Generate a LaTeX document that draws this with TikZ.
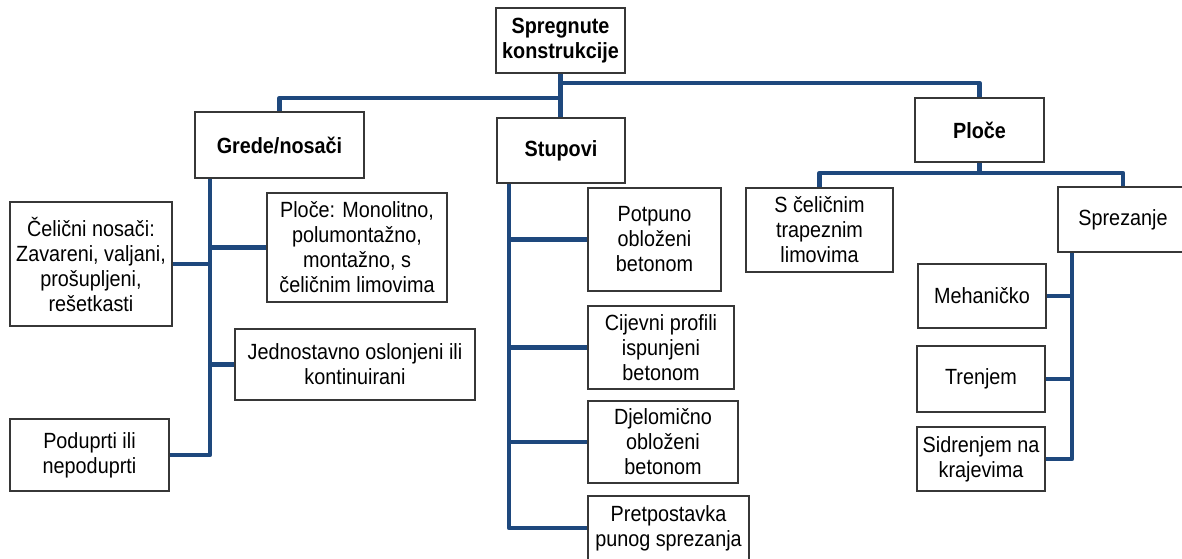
\documentclass[tikz,border=0pt]{standalone}
\usepackage{fontspec}
\setmainfont[FakeStretch=0.9]{Liberation Sans}
\definecolor{connblue}{RGB}{30,72,125}
\definecolor{boxline}{RGB}{55,55,55}
\begin{document}
\begin{tikzpicture}[x=1pt,y=-1pt,
  box/.style={draw=boxline, line width=1.1pt, fill=white, inner sep=0pt, align=center,
    font=\fontsize{22}{25}\selectfont},
  bbox/.style={box, font=\fontsize{22}{25}\selectfont\bfseries},
  conn/.style={draw=connblue, line width=4.8pt, line join=round}]
\useasboundingbox[fill=white] (0,0) rectangle (1182,558);

% level 0
\node[bbox, minimum width=129, minimum height=65] (root) at (560.5,40.5) {Spregnute\\konstrukcije};
% level 1
\node[bbox, minimum width=169, minimum height=66] (grede) at (279.5,145) {Grede/nosači};
\node[bbox, minimum width=128, minimum height=65] (stupovi) at (561,150.5) {Stupovi};
\node[bbox, minimum width=129, minimum height=64] (ploce) at (979.5,130) {Ploče};
% grede children
\node[box, minimum width=162, minimum height=124] (celicni) at (91,264) {Čelični nosači:\\Zavareni, valjani,\\prošupljeni,\\rešetkasti};
\node[box, minimum width=180, minimum height=109] (monolit) at (357,247.5) {Ploče: Monolitno,\\polumontažno,\\montažno, s\\čeličnim limovima};
\node[box, minimum width=240, minimum height=71] (jedno) at (355,364.5) {Jednostavno oslonjeni ili\\kontinuirani};
\node[box, minimum width=159, minimum height=72] (podup) at (89.5,455) {Poduprti ili\\nepoduprti};
% stupovi children
\node[box, minimum width=133, minimum height=103] (potpuno) at (654.5,239.5) {Potpuno\\obloženi\\betonom};
\node[box, minimum width=146, minimum height=83] (cijevni) at (661,347.5) {Cijevni profili\\ispunjeni\\betonom};
\node[box, minimum width=150, minimum height=82] (djelo) at (663,442) {Djelomično\\obloženi\\betonom};
\node[box, minimum width=161, minimum height=64] (pretp) at (668.5,528) {Pretpostavka\\punog sprezanja};
% ploce children
\node[box, minimum width=147, minimum height=84] (scel) at (819.5,230) {S čeličnim\\trapeznim\\limovima};
\node[box, minimum width=130, minimum height=65] (sprez) at (1123,219.5) {Sprezanje};
\node[box, minimum width=128, minimum height=64] (meh) at (982,296) {Mehaničko};
\node[box, minimum width=128, minimum height=66] (trenjem) at (981,379) {Trenjem};
\node[box, minimum width=128, minimum height=64] (sidr) at (981,459) {Sidrenjem na\\krajevima};

% connectors from root
\coordinate (lb) at (559.5,98);
\coordinate (rb) at (559.5,83);
\draw[conn] (root.south) -- (root.south |- stupovi.north);
\draw[conn] (grede.north) |- (lb);
\draw[conn] (ploce.north) |- (rb);

% grede tree
\coordinate (gv) at (210,178);
\draw[conn] (gv) |- (podup.east);
\draw[conn] (celicni.east) -- (celicni.east -| gv);
\draw[conn] (monolit.west) -- (monolit.west -| gv);
\draw[conn] (jedno.west) -- (jedno.west -| gv);

% stupovi tree
\coordinate (sv) at (509,183);
\draw[conn] (sv) |- (pretp.west);
\draw[conn] (potpuno.west) -- (potpuno.west -| sv);
\draw[conn] (cijevni.west) -- (cijevni.west -| sv);
\draw[conn] (djelo.west) -- (djelo.west -| sv);

% ploce tree
\coordinate (pb) at (979.5,173);
\draw[conn] (ploce.south) -- (pb);
\draw[conn] (scel.north) |- (pb);
\draw[conn] (sprez.north) |- (pb);

% sprezanje tree
\coordinate (spv) at (1072,252);
\draw[conn] (spv) |- (sidr.east);
\draw[conn] (meh.east) -- (meh.east -| spv);
\draw[conn] (trenjem.east) -- (trenjem.east -| spv);

% redraw box borders above connectors
\foreach \n in {root,grede,stupovi,ploce,celicni,monolit,jedno,podup,potpuno,cijevni,djelo,pretp,scel,sprez,meh,trenjem,sidr}
  \draw[boxline, line width=1.1pt] (\n.north west) rectangle (\n.south east);
\end{tikzpicture}
\end{document}
